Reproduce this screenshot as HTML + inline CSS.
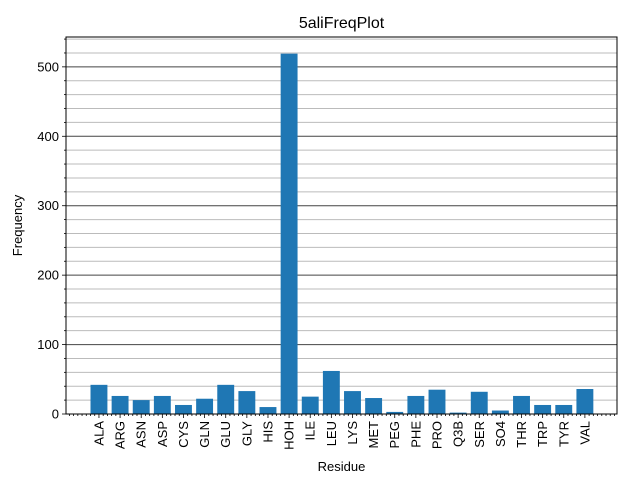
<!DOCTYPE html>
<html><head><meta charset="utf-8"><style>
body{margin:0;background:#fff;font-family:"Liberation Sans","DejaVu Sans",sans-serif}
</style></head><body>
<svg id="c" width="640" height="480" xmlns="http://www.w3.org/2000/svg"></svg>
<script>
const categories=["ALA","ARG","ASN","ASP","CYS","GLN","GLU","GLY","HIS","HOH","ILE","LEU","LYS","MET","PEG","PHE","PRO","Q3B","SER","SO4","THR","TRP","TYR","VAL"];
const values=[42,26,20,26,13,22,42,33,10,519,25,62,33,23,3,26,35,2,32,5,26,13,13,36];
const yTicks=[0,100,200,300,400,500];
const L=66,R=617,T=37,B=414,xMin=-1.56,xMax=24.52,yMax=543;
const X=v=>L+(v-xMin)/(xMax-xMin)*(R-L);
const Y=v=>B-v/yMax*(B-T);
const s=document.getElementById('c');const NS="http://www.w3.org/2000/svg";
function mk(t,a,p){const e=document.createElementNS(NS,t);for(const k in a)e.setAttribute(k,a[k]);(p||s).appendChild(e);return e;}
for(let v=20;v<yMax;v+=20){if(v%100===0)continue;
const g=mk('line',{x1:L,x2:R,y1:Y(v),y2:Y(v),stroke:'#bbb','stroke-width':1});

const t=mk('line',{x1:L-2,x2:L,y1:Y(v),y2:Y(v),stroke:'#000','stroke-width':0.8});
}
yTicks.forEach(v=>{
if(v>0){const g=mk('line',{x1:L,x2:R,y1:Y(v),y2:Y(v),stroke:'#444','stroke-width':1});
}
const t=mk('line',{x1:L-4,x2:L,y1:Y(v),y2:Y(v),stroke:'#000','stroke-width':0.8});

const l=mk('text',{x:L-7,y:Y(v)+4.5,'text-anchor':'end','font-size':13});l.textContent=v;
});
const bw=0.8*(X(1)-X(0));
values.forEach((v,i)=>{const r=mk('rect',{x:X(i)-bw/2,y:Y(v),width:bw,height:B-Y(v),fill:'#1f77b4'});
});
for(let k=Math.ceil(xMin*5);k<=xMax*5;k++){const v=k/5;if(Math.abs(v-Math.round(v))<1e-6&&v>=0&&v<categories.length)continue;
const t=mk('line',{x1:X(v),x2:X(v),y1:B,y2:B+2,stroke:'#000','stroke-width':0.8});
}
categories.forEach((c,i)=>{const x=X(i);
const t=mk('line',{x1:x,x2:x,y1:B,y2:B+4,stroke:'#000','stroke-width':0.8});

const l=mk('text',{x:x+4.5,y:B+7,'text-anchor':'end','font-size':13,transform:`rotate(-90 ${x+4.5} ${B+7})`});l.textContent=c;
});
const f=mk('rect',{x:L,y:T,width:R-L,height:B-T,fill:'none',stroke:'#000','stroke-width':1});

const ti=mk('text',{x:(L+R)/2,y:28,'text-anchor':'middle','font-size':16});ti.textContent='5aliFreqPlot';

const xt=mk('text',{x:(L+R)/2,y:471,'text-anchor':'middle','font-size':13});xt.textContent='Residue';

const yt=mk('text',{x:22,y:(T+B)/2,'text-anchor':'middle','font-size':13,transform:`rotate(-90 22 ${(T+B)/2})`});yt.textContent='Frequency';

</script>
</body></html>
